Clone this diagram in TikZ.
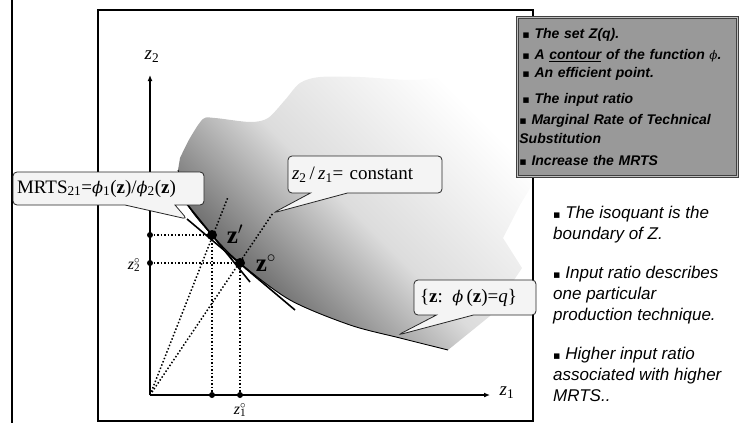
\documentclass[tikz,border=0pt]{standalone}
\usepackage{fontspec}
\setmainfont{Liberation Serif}
\newfontfamily\arialfont{Liberation Sans}
\newfontfamily\phifont[Scale=0.85]{DejaVu Serif}
\newfontfamily\symfont{DejaVu Sans}
\usepackage{tikz}
\usetikzlibrary{arrows.meta,positioning,shapes.callouts,calc}
\definecolor{zdark}{RGB}{75,75,75}
\definecolor{zmid}{RGB}{220,220,220}
\definecolor{notefill}{RGB}{153,153,153}
\definecolor{bubblefill}{RGB}{244,244,244}
\newcommand{\vphi}{{\phifont\itshape\mdseries ϕ}}
\newcommand{\bz}{\textbf{z}}
\newcommand{\sqb}{{\symfont\upshape\mdseries\fontsize{11}{11}\selectfont ▪}}
\tikzset{
  frame/.style   ={line width=2pt},
  axis/.style    ={-{Latex[length=6pt,width=5pt]}, line width=1.4pt},
  guide/.style   ={dotted, line width=1.5pt},
  tangent/.style ={line width=1.6pt},
  isoq/.style    ={line width=0.9pt},
  dot/.style     ={circle, fill, inner sep=0pt, minimum size=6pt},
  bigdot/.style  ={circle, fill, inner sep=0pt, minimum size=10pt},
  bubble/.style  ={rectangle callout, rounded corners=4pt, draw=black!85,
                   fill=bubblefill, line width=0.8pt, align=left,
                   inner xsep=4pt, inner ysep=0pt,
                   font=\fontsize{19}{22}\selectfont},
  note/.style    ={rectangle, draw=black!75, double=black!25,
                   double distance=1pt, line width=0.8pt, fill=notefill,
                   align=left, inner xsep=2pt, inner ysep=0pt,
                   font=\arialfont\bfseries\itshape\fontsize{14}{19}\selectfont},
  side/.style    ={align=left, inner sep=0pt,
                   font=\arialfont\itshape\fontsize{17}{21}\selectfont},
  lbl/.style     ={inner sep=0pt, font=\fontsize{19}{22}\selectfont},
  ptlbl/.style   ={inner sep=0pt, font=\bfseries\fontsize{25}{28}\selectfont},
}
\begin{document}
\begin{tikzpicture}[x=1pt, y=-1pt]
  \useasboundingbox (0,0) rectangle (742,423);

  % frames
  \draw[frame] (12,0) -- (12,423);
  \draw[frame] (98,10) rectangle (533,421);

  % the set Z(q)
  \shade[shading=axis, top color=white, bottom color=zdark, middle color=zmid,
         shading angle=-45]
    plot[smooth] coordinates {(178,170) (188,205) (212,235) (240,263)
      (290,300) (350,325) (400,338) (448,350)}
    -- (490,316) -- (522,268) -- (503,238) -- (520,205) -- (532,185)
    -- plot[smooth] coordinates {(528,150) (510,115) (485,92) (450,78)
      (410,80) (360,77) (320,77) (300,83) (285,100) (268,118) (250,122)
      (215,118) (203,119) (190,138) (180,158)}
    -- cycle;
  \draw[isoq] plot[smooth] coordinates {(178,170) (188,205) (212,235)
    (240,263) (290,300) (350,325) (400,338) (448,350)};

  % axes
  \coordinate (O) at (150,395);
  \coordinate (ytop) at (150,75);
  \coordinate (xend) at (490,395);
  \draw[axis] (O) -- (ytop);
  \draw[axis] (O) -- (xend);
  \node[lbl] (lz2) at (152,57) {\textit{z}\textsubscript{2}};
  \node[lbl] (lz1) at (507,393) {\textit{z}\textsubscript{1}};

  % points
  \coordinate (zp) at (212,235);
  \coordinate (zo) at (240,263);
  \coordinate (y1) at (150,235);
  \coordinate (y2) at (150,263);
  \coordinate (x1) at (212,395);
  \coordinate (x2) at (240,395);
  \coordinate (rayp) at (228,197);
  \coordinate (rayo) at (273,213);
  \coordinate (isoqtip) at (398,335);

  \draw[guide] (y1) -- (zp) -- (x1);
  \draw[guide] (y2) -- (zo) -- (x2);
  \draw[guide] (O) -- (rayp);
  \draw[guide] (O) -- (rayo);

  % tangents
  \coordinate (tp1) at (186,203);
  \coordinate (tp2) at (250,282);
  \coordinate (to1) at (187,219);
  \coordinate (to2) at (295,310);
  \draw[tangent] (tp1) -- (tp2);
  \draw[tangent] (to1) -- (to2);

  \node[dot] (d1) at (y1) {};
  \node[dot] (d2) at (y2) {};
  \node[dot] (d3) at (x1) {};
  \node[dot] (d4) at (x2) {};
  \node[bigdot] (pzp) at (zp) {};
  \node[bigdot] (pzo) at (zo) {};

  \node[ptlbl] (lzp) at (235,234) {z$'$};
  \node[ptlbl] (lzo) at (266,263) {z$^\circ$};
  \node[inner sep=0pt, font=\fontsize{16}{18}\selectfont] (lzo2) at (134,265)
    {\textit{z}\rlap{\textsuperscript{$\circ$}}\textsubscript{2}};
  \node[inner sep=0pt, font=\fontsize{16}{18}\selectfont] (lzo1) at (240,410)
    {\textit{z}\rlap{\textsuperscript{$\circ$}}\textsubscript{1}};

  % callouts
  \node[bubble, text width=183pt, minimum height=33pt,
        callout absolute pointer={(to1)}, callout pointer width=50pt]
    (mrts) at (108.5,188.5)
    {MRTS\textsubscript{21}=\vphi\textsubscript{1}(\bz)/\vphi\textsubscript{2}(\bz)};
  \node[bubble, text width=146pt, minimum height=37pt,
        callout absolute pointer={(rayo)}, callout pointer width=37pt]
    (ratio) at (365,174.5)
    {\textit{z}\textsubscript{2}\,/\,\textit{z}\textsubscript{1}= constant};
  \node[bubble, text width=110pt, inner xsep=6pt, minimum height=35pt,
        callout absolute pointer={(isoqtip)}, callout pointer width=37pt]
    (level) at (475,297.5)
    {\{\bz: \vphi\,(\bz)=\textit{q}\}};

  % notes
  \node[note, anchor=north west, text width=216pt, minimum height=159pt]
    (notes) at (517,17)
    {\hspace*{3pt}\sqb\ The set \textit{Z}(\textit{q}).\\[2pt]
     \hspace*{3pt}\sqb\ A \underline{contour} of the function \vphi.\\[-1pt]
     \hspace*{3pt}\sqb\ An efficient point.\\[7pt]
     \hspace*{3pt}\sqb\ The input ratio\\[2pt]
     \sqb\ Marginal Rate of Technical\\
     Substitution\\[3pt]
     \sqb\ Increase the MRTS};

  \node[side, anchor=north west] (remarks) at (553,206)
    {\sqb\ The isoquant is the\\
     boundary of Z.\\[18pt]
     \sqb\ Input ratio describes\\
     one particular\\
     production technique.\\[18pt]
     \sqb\ Higher input ratio\\
     associated with higher\\
     MRTS..};
\end{tikzpicture}
\end{document}
